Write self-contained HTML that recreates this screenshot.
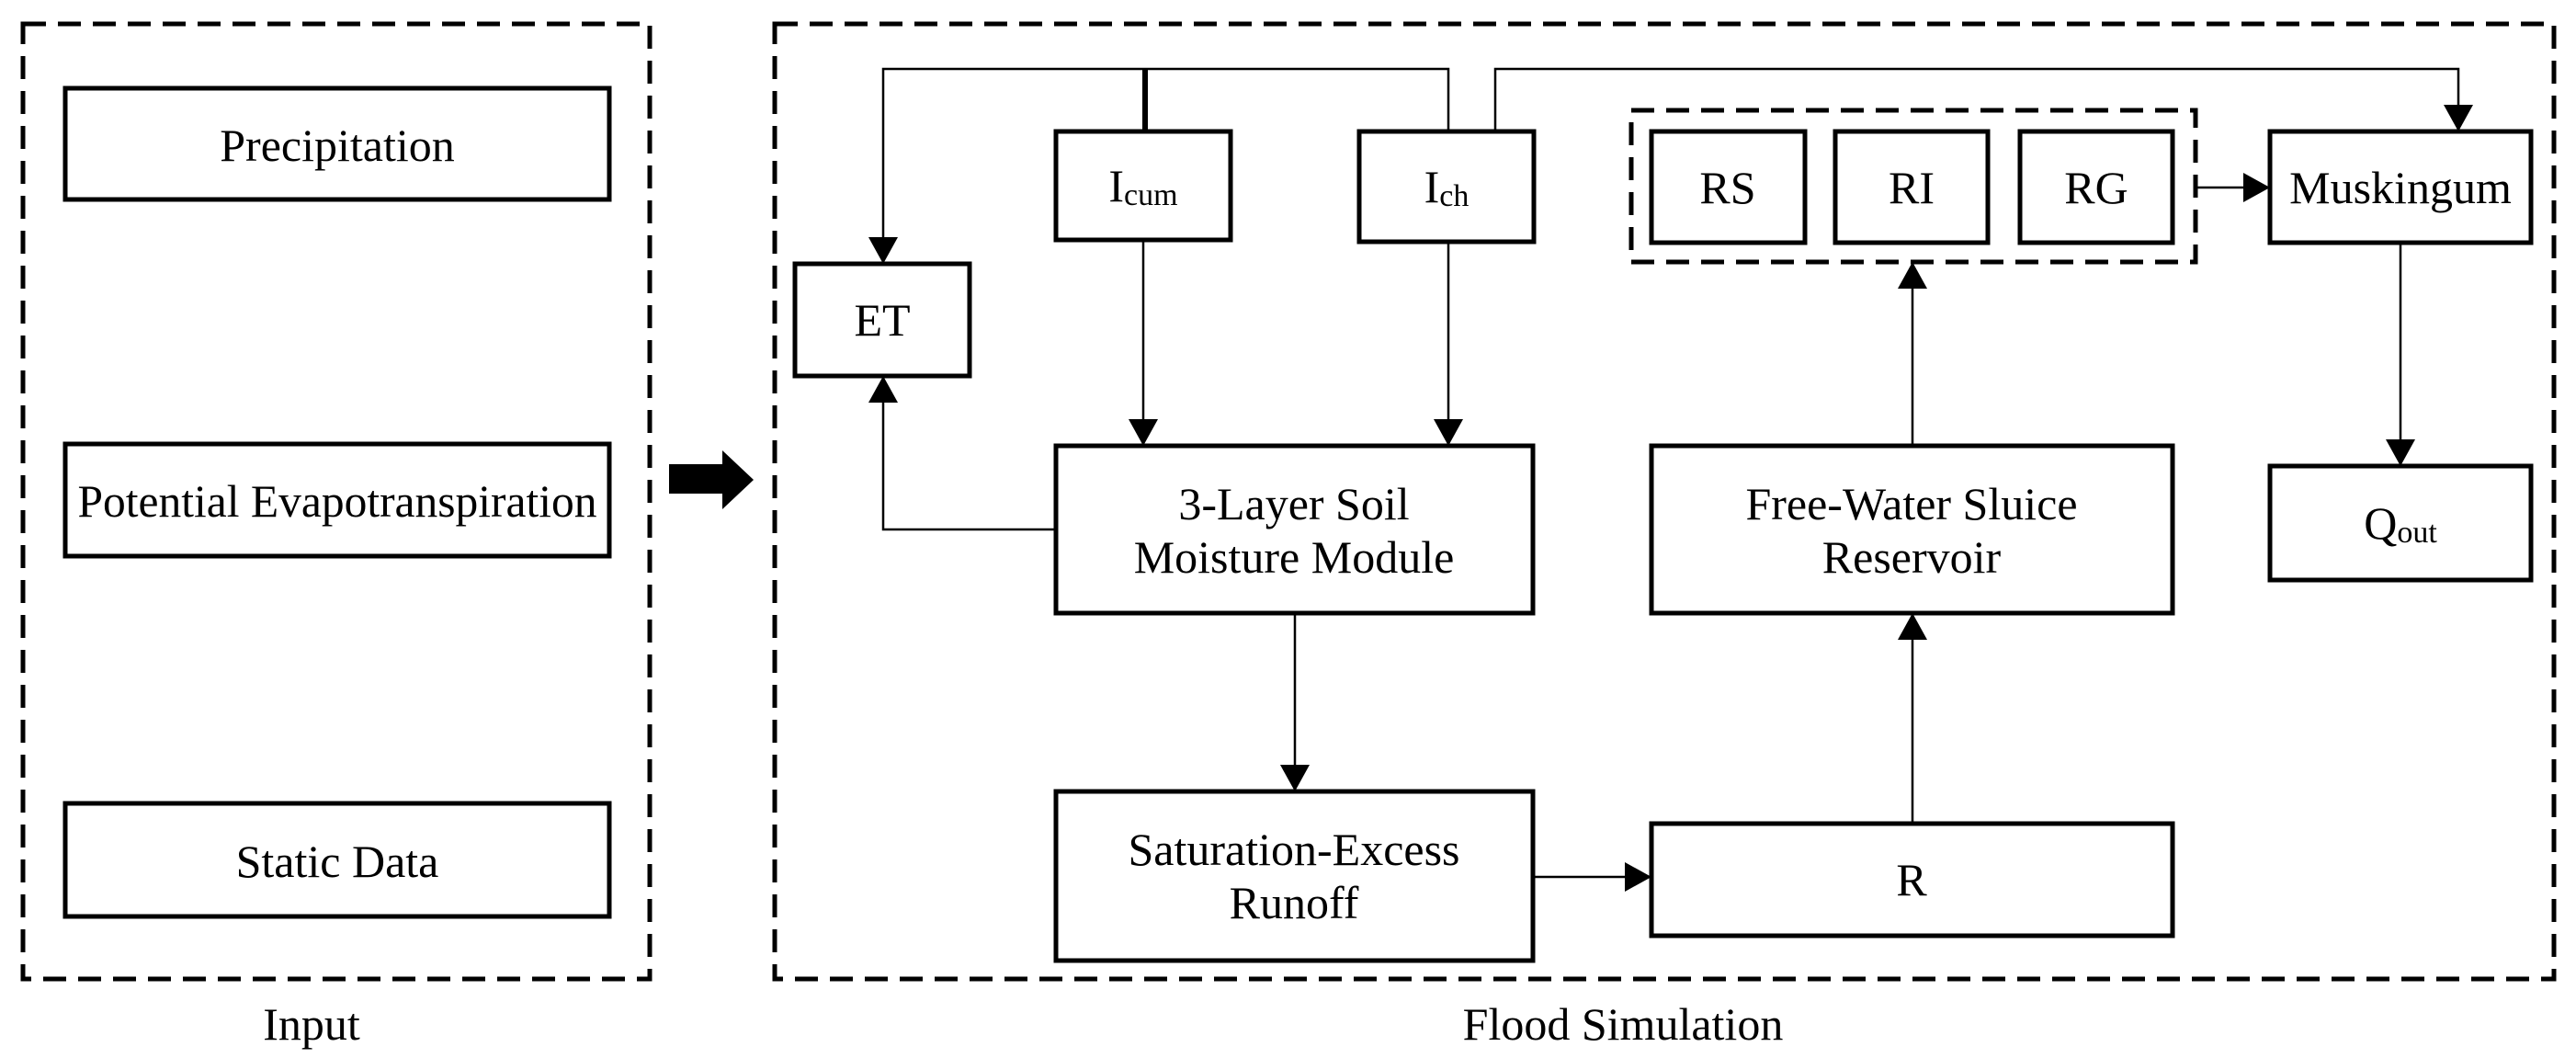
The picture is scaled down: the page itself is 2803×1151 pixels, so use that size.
<!DOCTYPE html>
<html><head><meta charset="utf-8"><style>html,body{margin:0;padding:0;background:#fff}svg{display:block}</style></head>
<body>
<svg width="2803" height="1151" viewBox="0 0 2803 1151" xmlns="http://www.w3.org/2000/svg" font-family="'Liberation Serif', serif" font-size="50">
<defs>
<marker id="ah" markerWidth="29" markerHeight="32" refX="29" refY="16" viewBox="0 0 29 32" markerUnits="userSpaceOnUse" orient="auto">
<path d="M0,0 L29,16 L0,32 Z" fill="#000"/>
</marker>
</defs>
<g fill="none" stroke="#000" stroke-width="5" stroke-dasharray="25 13">
<rect x="25" y="26" width="682" height="1039"/>
<rect x="843" y="26" width="1936" height="1039"/>
<rect x="1775" y="120" width="614" height="165"/>
</g>
<g fill="none" stroke="#000" stroke-width="5">
<rect x="71" y="96" width="592" height="121"/>
<rect x="71" y="483" width="592" height="122"/>
<rect x="71" y="874" width="592" height="123"/>
<rect x="865" y="287" width="190" height="122"/>
<rect x="1149" y="143" width="190" height="118"/>
<rect x="1479" y="143" width="190" height="120"/>
<rect x="1149" y="485" width="519" height="182"/>
<rect x="1149" y="861" width="519" height="184"/>
<rect x="1797" y="143" width="167" height="121"/>
<rect x="1997" y="143" width="166" height="121"/>
<rect x="2198" y="143" width="166" height="121"/>
<rect x="2470" y="143" width="284" height="121"/>
<rect x="2470" y="507" width="284" height="124"/>
<rect x="1797" y="485" width="567" height="182"/>
<rect x="1797" y="896" width="567" height="122"/>
</g>
<path d="M728,505 H786 V490 L820,522 L786,554 V537 H728 Z" fill="#000"/>
<g fill="none" stroke="#000" stroke-width="2.5">
<path d="M1576,143 V75 H961 V287" marker-end="url(#ah)"/>
<path d="M1627,143 V75 H2675 V143" marker-end="url(#ah)"/>
<path d="M1244,261 V485" marker-end="url(#ah)"/>
<path d="M1576,263 V485" marker-end="url(#ah)"/>
<path d="M1149,576 H961 V409" marker-end="url(#ah)"/>
<path d="M1409,667 V861" marker-end="url(#ah)"/>
<path d="M1668,954 H1797" marker-end="url(#ah)"/>
<path d="M2081,896 V667" marker-end="url(#ah)"/>
<path d="M2081,485 V285" marker-end="url(#ah)"/>
<path d="M2389,204 H2470" marker-end="url(#ah)"/>
<path d="M2612,264 V507" marker-end="url(#ah)"/>
</g>
<line x1="1246" y1="75" x2="1246" y2="143" stroke="#000" stroke-width="6"/>
<g text-anchor="middle" dominant-baseline="central" fill="#000">
<text x="367" y="158">Precipitation</text>
<text x="367" y="545" textLength="565" lengthAdjust="spacingAndGlyphs">Potential Evapotranspiration</text>
<text x="367" y="937">Static Data</text>
<text x="339" y="1114">Input</text>
<text x="1766" y="1114">Flood Simulation</text>
<text x="960" y="348">ET</text>
<text x="1244" y="202">I<tspan font-size="34" dy="10">cum</tspan></text>
<text x="1574" y="203">I<tspan font-size="34" dy="10">ch</tspan></text>
<text x="1880" y="204">RS</text>
<text x="2080" y="204">RI</text>
<text x="2281" y="204">RG</text>
<text x="2612" y="204">Muskingum</text>
<text x="2612" y="569">Q<tspan font-size="34" dy="10">out</tspan></text>
<text x="1408" y="548">3-Layer Soil</text>
<text x="1408" y="606">Moisture Module</text>
<text x="1408" y="924">Saturation-Excess</text>
<text x="1408" y="982">Runoff</text>
<text x="2080" y="548">Free-Water Sluice</text>
<text x="2080" y="606">Reservoir</text>
<text x="2080" y="957">R</text>
</g>
</svg>
</body></html>
